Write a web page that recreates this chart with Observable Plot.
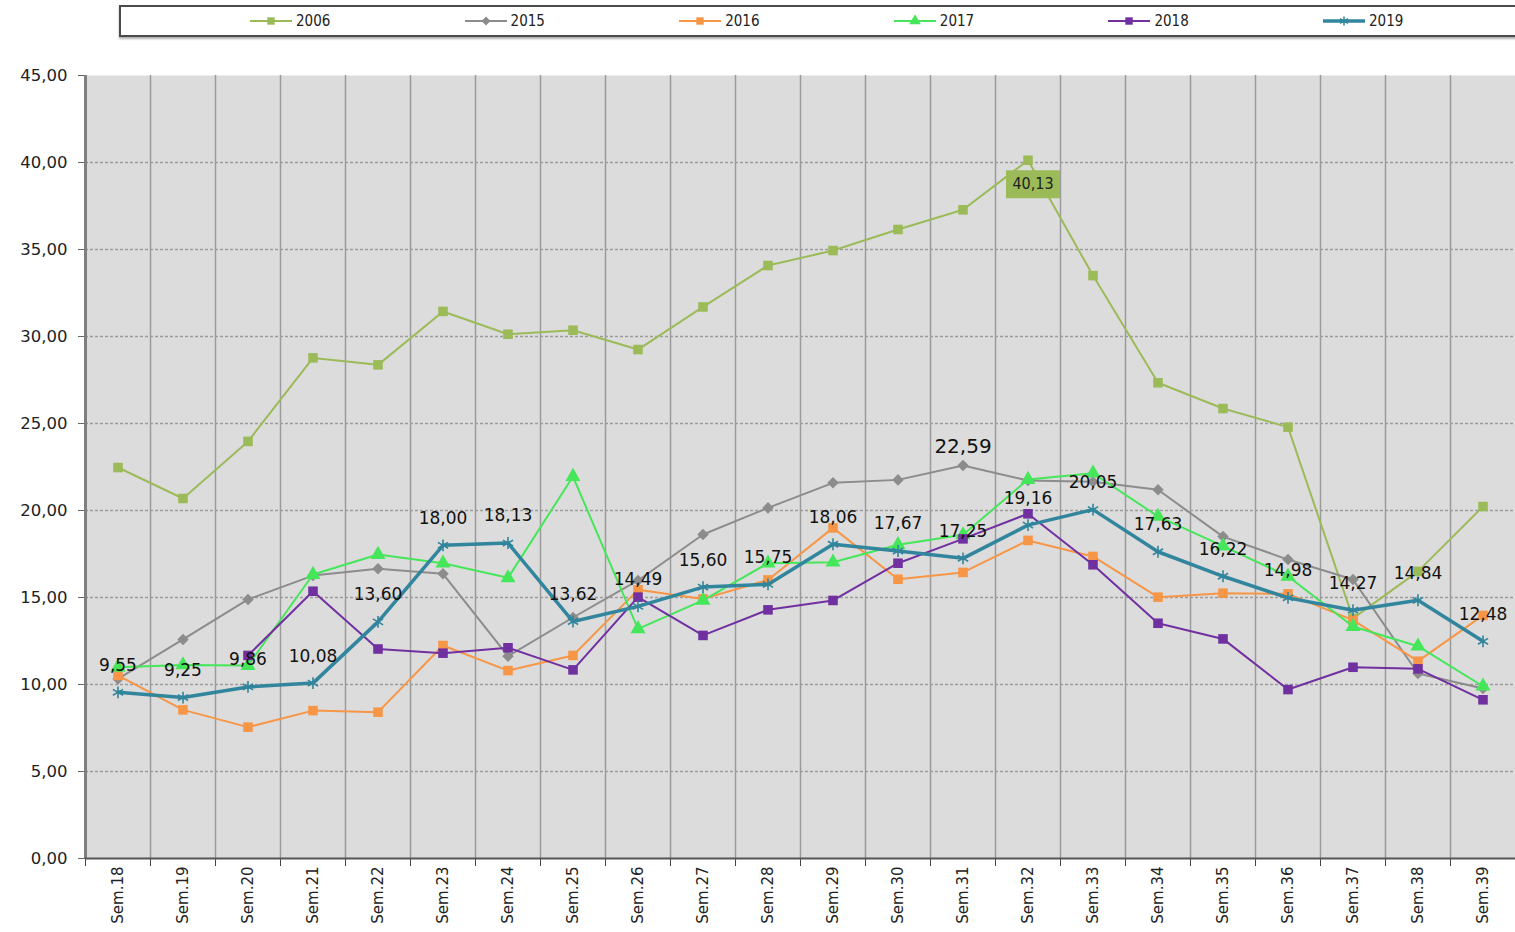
<!DOCTYPE html>
<html>
<head>
<meta charset="utf-8">
<script src="https://cdn.jsdelivr.net/npm/d3@7"></script>
<script src="https://cdn.jsdelivr.net/npm/@observablehq/plot@0.6"></script>
<style>
  html, body { margin: 0; padding: 0; background: #fff; overflow: hidden; }
  #wrap { position: relative; width: 1515px; height: 932px; }
  #legend { position: absolute; left: 119px; top: 5px; width: 1420px; height: 28px;
    border: 2px solid #4a4a4a; background: #fff; box-shadow: 0 2px 2px #b0b0b0; }
  .item { position: absolute; top: 4px; display: flex; align-items: center; height: 20px;
    font-family: "DejaVu Sans Condensed", "DejaVu Sans", sans-serif; font-size: 15px; color: #222; }
  .item svg { display: block; margin-right: 4px; }
  #chart { position: absolute; left: 0; top: 40px; }
</style>
</head>
<body>
<div id="wrap">
  <div id="legend"></div>
  <div id="chart"></div>
</div>
<script>
// ---------- data ----------
const weeks = ["Sem.18","Sem.19","Sem.20","Sem.21","Sem.22","Sem.23","Sem.24","Sem.25","Sem.26","Sem.27","Sem.28",
               "Sem.29","Sem.30","Sem.31","Sem.32","Sem.33","Sem.34","Sem.35","Sem.36","Sem.37","Sem.38","Sem.39"];
const seriesNames = ["2006","2015","2016","2017","2018","2019"];
const s2006 = [22.47,20.69,23.97,28.77,28.37,31.44,30.13,30.36,29.25,31.70,34.08,34.94,36.15,37.28,40.13,33.50,27.34,25.86,24.79,13.80,16.50,20.23];
const s2015 = [10.32,12.59,14.89,16.26,16.65,16.36,11.63,13.85,15.98,18.62,20.15,21.59,21.76,22.59,21.72,21.65,21.19,18.50,17.18,16.03,10.63,9.77];
const s2016 = [10.52,8.54,7.55,8.50,8.41,12.24,10.80,11.67,15.44,14.92,16.01,19.00,16.05,16.44,18.28,17.36,15.02,15.25,15.21,13.70,11.34,13.97];
const s2017 = [10.99,11.12,11.09,16.32,17.47,16.97,16.13,21.95,13.20,14.83,16.97,17.03,18.03,18.60,21.78,22.14,19.66,17.95,16.22,13.33,12.20,9.90];
const s2018 = [null,null,11.67,15.36,12.04,11.80,12.11,10.84,15.02,12.82,14.29,14.83,16.97,18.37,19.81,16.88,13.52,12.62,9.71,10.99,10.90,9.12];
const s2019 = [9.55,9.25,9.86,10.08,13.60,18.00,18.13,13.62,14.49,15.60,15.75,18.06,17.67,17.25,19.16,20.05,17.63,16.22,14.98,14.27,14.84,12.48];
const yTicks = [0,5,10,15,20,25,30,35,40,45];
const peak2015 = {week: "Sem.31", value: 22.59};
const peak2006 = {week: "Sem.32", value: 40.13};

// ---------- styles ----------
const styles = {
  "2006": {color: "#9BBB59", symbol: "square", r: 5.4, width: 2},
  "2015": {color: "#8C8C8C", symbol: "diamond2", r: 5.2, width: 2},
  "2016": {color: "#F79646", symbol: "square", r: 5.4, width: 2},
  "2017": {color: "#45E65A", symbol: "triangle", r: 5.6, width: 2},
  "2018": {color: "#7030A0", symbol: "square", r: 5.4, width: 2},
  "2019": {color: "#31859C", symbol: "asterisk", r: 5.6, width: 3.5}
};
const valuesBySeries = {"2006": s2006, "2015": s2015, "2016": s2016, "2017": s2017, "2018": s2018, "2019": s2019};
const idx = w => weeks.indexOf(w);
const fmt = v => v.toFixed(2).replace(".", ",");

function rows(name) {
  return valuesBySeries[name].map((v, i) => ({i, week: weeks[i], value: v, series: name})).filter(d => d.value != null);
}

const seriesMarks = [];
for (const name of seriesNames) {
  const st = styles[name];
  const data = rows(name);
  seriesMarks.push(Plot.line(data, {x: "i", y: "value", stroke: st.color, strokeWidth: st.width}));
  if (st.symbol === "asterisk") {
    seriesMarks.push(Plot.dot(data, {x: "i", y: "value", symbol: "asterisk", r: st.r, stroke: st.color, strokeWidth: 1.6}));
  } else {
    seriesMarks.push(Plot.dot(data, {x: "i", y: "value", symbol: st.symbol, r: st.r, fill: st.color, stroke: null}));
  }
}

const boundaries = weeks.map((w, i) => i - 0.5).concat([weeks.length - 0.5]);
const innerBoundaries = weeks.slice(1).map((w, i) => i + 0.5);
const rectSymbol = {draw(ctx) { ctx.rect(-27, -14, 54, 28); }};

const labels2019 = rows("2019");

const chart = Plot.plot({
  width: 1515, height: 892,
  marginTop: 35, marginBottom: 74, marginLeft: 85, marginRight: 0,
  x: {type: "linear", domain: [-0.5, weeks.length - 0.5], axis: null},
  y: {domain: [0, 45], axis: null},
  style: {fontFamily: "DejaVu Sans, sans-serif", background: "transparent"},
  marks: [
    Plot.frame({fill: "#DCDCDC", stroke: null}),
    Plot.gridY(yTicks.slice(1, -1), {stroke: "#9b9b9b", strokeOpacity: 1, strokeWidth: 1.5, strokeDasharray: "3,2"}),
    Plot.ruleX(innerBoundaries, {stroke: "#9a9a9a", strokeWidth: 1.5}),
    Plot.axisY(yTicks, {label: null, tickSize: 7, tickPadding: 11, tickFormat: fmt, fontSize: 16.5, fill: "#222", stroke: "#666"}),
    Plot.axisX(boundaries, {label: null, tickSize: 8, tickFormat: () => "", stroke: "#444"}),
    Plot.axisX(weeks.map((w, i) => i), {label: null, tickSize: 0, tickPadding: 8, tickRotate: -90, tickFormat: i => weeks[i], fontSize: 15, fill: "#222"}),
    Plot.ruleX([-0.5], {stroke: "#7f7f7f", strokeWidth: 3}),
    Plot.ruleY([0], {stroke: "#555", strokeWidth: 2}),
    ...seriesMarks,
    Plot.text(labels2019, {x: "i", y: "value", text: d => fmt(d.value), dy: -27, fontSize: 17, fill: "#111"}),
    Plot.text([peak2015], {x: d => idx(d.week), y: "value", text: d => fmt(d.value), dy: -19, fontSize: 20, fill: "#111"}),
    Plot.dot([peak2006], {x: d => idx(d.week), y: "value", symbol: rectSymbol, r: 5, fill: "#9BBB59", dx: 5, dy: 24}),
    Plot.text([peak2006], {x: d => idx(d.week), y: "value", text: d => fmt(d.value), dx: 5, dy: 24, fontSize: 16, fill: "#222",
      fontFamily: "DejaVu Sans Condensed, DejaVu Sans, sans-serif"})
  ]
});
document.getElementById("chart").appendChild(chart);

// ---------- legend ----------
const legend = document.getElementById("legend");
const legendStart = 129, legendStep = 214.6;
seriesNames.forEach((name, k) => {
  const st = styles[name];
  const item = document.createElement("div");
  item.className = "item";
  item.style.left = (legendStart + k * legendStep) + "px";
  const ns = "http://www.w3.org/2000/svg";
  const svg = document.createElementNS(ns, "svg");
  svg.setAttribute("width", 42); svg.setAttribute("height", 16);
  const line = document.createElementNS(ns, "line");
  line.setAttribute("x1", 0); line.setAttribute("x2", 42); line.setAttribute("y1", 8); line.setAttribute("y2", 8);
  line.setAttribute("stroke", st.color); line.setAttribute("stroke-width", st.width);
  svg.appendChild(line);
  const symType = {square: d3.symbolSquare, diamond2: d3.symbolDiamond2, triangle: d3.symbolTriangle, asterisk: d3.symbolAsterisk}[st.symbol];
  const p = document.createElementNS(ns, "path");
  p.setAttribute("d", d3.symbol(symType, Math.PI * st.r * st.r * 0.6)());
  p.setAttribute("transform", "translate(21,8)");
  if (st.symbol === "asterisk") { p.setAttribute("stroke", st.color); p.setAttribute("fill", "none"); p.setAttribute("stroke-width", 1.5); }
  else p.setAttribute("fill", st.color);
  svg.appendChild(p);
  item.appendChild(svg);
  const span = document.createElement("span");
  span.textContent = name;
  item.appendChild(span);
  legend.appendChild(item);
});
</script>
</body>
</html>
